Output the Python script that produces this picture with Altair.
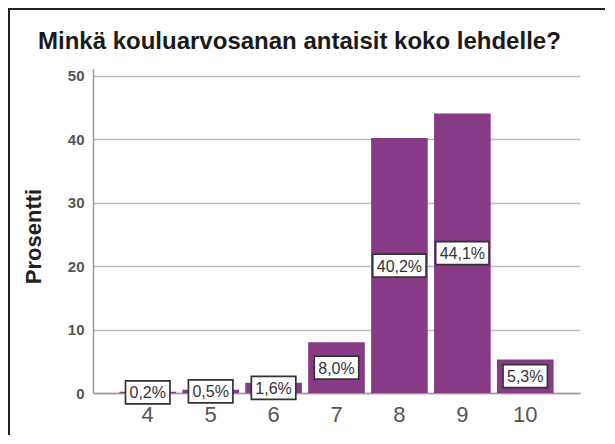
import altair as alt
import pandas as pd

# ---- data ----
grades = ["4", "5", "6", "7", "8", "9", "10"]
percent = [0.2, 0.5, 1.6, 8.0, 40.2, 44.1, 5.3]
y_ticks = [0, 10, 20, 30, 40, 50]
title_text = "Minkä kouluarvosanan antaisit koko lehdelle?"
y_title = "Prosentti"

FONT = "Liberation Sans"
BAR = "#873a86"
LABEL_FS = 16

labels = [f"{v:.1f}".replace(".", ",") + "%" for v in percent]
CW = {",": 0.278, "%": 0.889}
def text_w(s):
    return sum(CW.get(c, 0.556) for c in s) * LABEL_FS

SIZE = 3600
SC = (SIZE ** 0.5) / 2
def box_path(w, h):
    a, b = w / 2 / SC, h / 2 / SC
    return f"M{-a:.4f},{-b:.4f}H{a:.4f}V{b:.4f}H{-a:.4f}Z"

paths = [box_path(text_w(l) + 8, 23) for l in labels]

df = pd.DataFrame({"grade": grades, "pct": percent, "lab": labels})

x_enc = alt.X("grade:N", sort=grades,
              scale=alt.Scale(paddingInner=0.1, paddingOuter=0.42),
              axis=alt.Axis(title=None, labelAngle=0, ticks=False,
                            labelFont=FONT, labelFontSize=22, labelColor="#555",
                            labelPadding=11, domainColor="#999", domainWidth=1.5))
y_scale = alt.Scale(domain=[0, 51.1], nice=False, zero=True)

bars = alt.Chart(df).mark_bar(color=BAR).encode(
    x=x_enc,
    y=alt.Y("pct:Q", scale=y_scale,
            axis=alt.Axis(values=y_ticks, title=y_title, grid=True, gridColor="#bdbdbd",
                          gridWidth=1.5, ticks=False, domainColor="#999", domainWidth=1.5,
                          labelFont=FONT, labelFontSize=15, labelFontWeight="bold",
                          labelColor="#555", labelPadding=9,
                          titleFont=FONT, titleFontSize=22, titleFontWeight="bold",
                          titleColor="#222", titleAngle=270, titleX=-60, titleY=167,
                          titleAlign="center", titleBaseline="middle")),
)

base_lab = alt.Chart(df).transform_calculate(mid="datum.pct / 2")

boxes = base_lab.mark_point(filled=True, fill="white", stroke="#333", strokeWidth=1.7,
                            size=SIZE, opacity=1, fillOpacity=1, strokeOpacity=1).encode(
    x=alt.X("grade:N", sort=grades),
    y=alt.Y("mid:Q", scale=y_scale),
    shape=alt.Shape("lab:N", scale=alt.Scale(domain=labels, range=paths), legend=None),
)

texts = base_lab.mark_text(font=FONT, fontSize=LABEL_FS, color="#333",
                           baseline="middle", align="center", dy=1).encode(
    x=alt.X("grade:N", sort=grades),
    y=alt.Y("mid:Q", scale=y_scale),
    text="lab:N",
)

title_df = pd.DataFrame({"t": [title_text]})
title = alt.Chart(title_df).mark_text(font=FONT, fontSize=24, fontWeight="bold",
                                      color="#1a1a1a", align="left",
                                      baseline="alphabetic").encode(
    x=alt.value(-55), y=alt.value(-20), text="t:N")

frame_df = pd.DataFrame({"k": [0]})
fr = alt.Chart(frame_df)
frame = alt.layer(
    fr.mark_rule(color="#222", strokeWidth=2).encode(x=alt.value(-84), y=alt.value(-61), y2=alt.value(370)),
    fr.mark_rule(color="#222", strokeWidth=2).encode(x=alt.value(513), y=alt.value(-61), y2=alt.value(370)),
    fr.mark_rule(color="#222", strokeWidth=2).encode(x=alt.value(-84), x2=alt.value(513), y=alt.value(-60)),
)

chart = alt.layer(bars, boxes, texts, title, frame).properties(
    width=487, height=324,
    autosize=alt.AutoSizeParams(type="none"),
    padding={"left": 85, "top": 61, "right": 25, "bottom": 42},
    background="white",
).configure_view(stroke=None)

chart.save("out.html", embed_options={"renderer": "svg", "actions": False})
